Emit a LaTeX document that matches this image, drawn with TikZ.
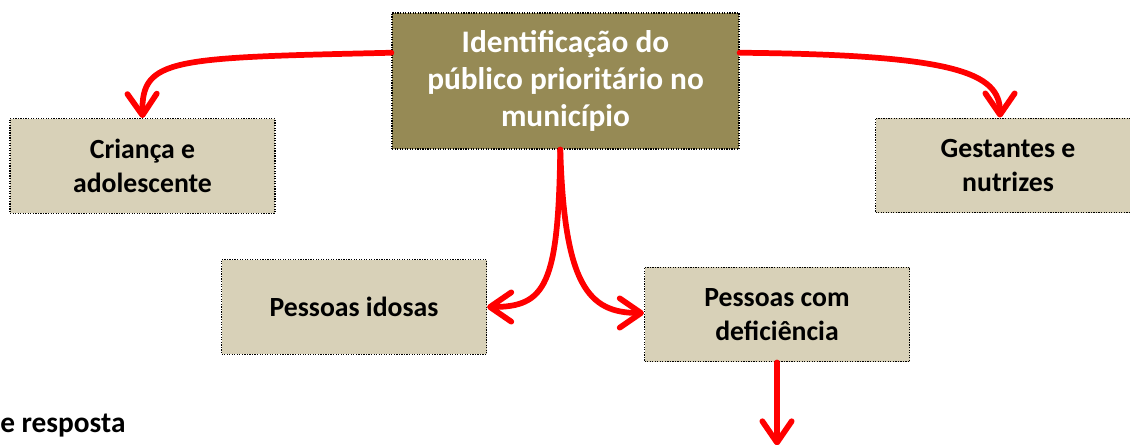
\documentclass[tikz,border=0pt]{standalone}
\usepackage{fontspec}
\setmainfont{Carlito}
\usetikzlibrary{arrows.meta,calc}
\definecolor{olivebox}{HTML}{968A55}
\definecolor{sandbox}{HTML}{D8D1B8}
\definecolor{arrred}{HTML}{FF0000}
\tikzset{
  mainbox/.style={draw=black, densely dotted, line width=0.9pt, fill=olivebox, text=white,
    font=\bfseries\fontsize{23.5}{28}\selectfont, align=center, inner sep=0pt,
    minimum width=260.25pt, minimum height=102pt},
  catbox/.style={draw=black, densely dotted, line width=0.9pt, fill=sandbox, text=black,
    font=\bfseries\fontsize{20.8}{26}\selectfont, align=center, inner sep=0pt,
    minimum width=198.75pt, minimum height=71pt},
  redarrow/.style={draw=arrred, line width=4.3pt, solid, line cap=round,
    -{Straight Barb[length=16pt,width=22pt,line cap=round,line join=round]}},
  plaintext/.style={font=\bfseries\fontsize{22}{26}\selectfont, inner sep=0pt, anchor=base west}
}
\begin{document}
\begin{tikzpicture}[x=0.75pt,y=-0.75pt]
\clip (0,0) rectangle (1130,445);
\node[mainbox] (top) at (565.5,81) {Identificação do\\público prioritário no\\município};
\node[catbox] (cri) at (142.5,166) {Criança e\\adolescente};
\node[catbox] (gest) at (1008,165.5) {Gestantes e\\nutrizes};
\node[catbox] (ido) at (354,307) {Pessoas idosas};
\node[catbox] (def) at (777,314.5) {Pessoas com\\deficiência};
\node[plaintext] (resp) at (0,432) {e resposta};
\coordinate (tl) at ($(top.north west)!0.294!(top.south west)$);
\coordinate (tr) at ($(top.north east)!0.294!(top.south east)$);
\coordinate (tb) at ($(top.south west)!0.485!(top.south east)$);
\coordinate (gn) at ($(gest.north)+(-8,0)$);
\coordinate (dend) at ($(def.south)+(0,83)$);
\draw[redarrow] (tl) .. controls +(-220,5) and +(-1,-60) .. (cri.north);
\draw[redarrow] (tr) .. controls +(215,2) and +(0,-45) .. (gn);
\draw[redarrow] (tb) .. controls +(-2,135) and +(59,0) .. (ido.east);
\draw[redarrow] (tb) .. controls +(4,135) and +(-56,0) .. ($(def.west)+(0,-1.5)$);
\draw[redarrow] (def.south) -- (dend);
\end{tikzpicture}
\end{document}
